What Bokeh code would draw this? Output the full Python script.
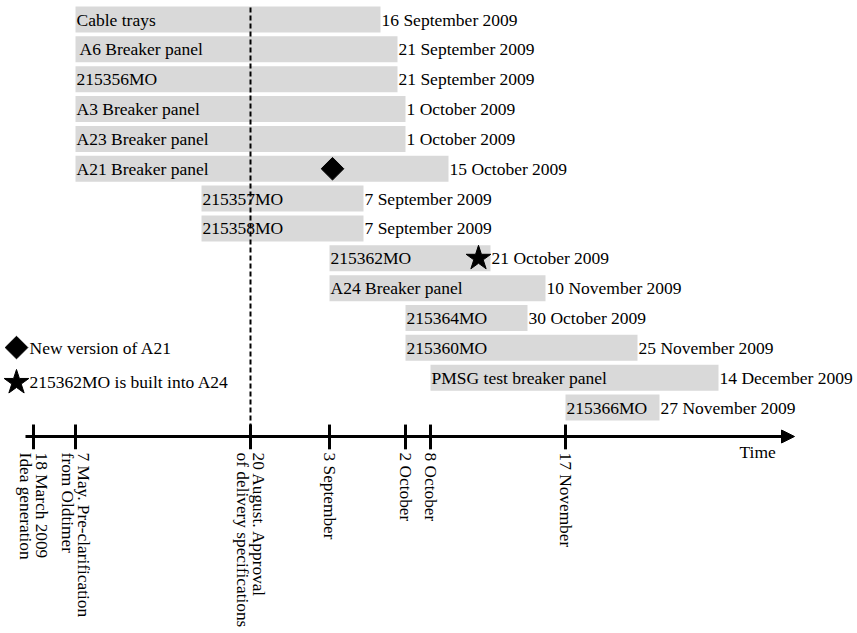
import math
from bokeh.plotting import figure
from bokeh.models import Range1d, ColumnDataSource, Arrow, NormalHead
from bokeh.core.properties import value
from bokeh.embed import file_html
from bokeh.resources import INLINE

# ---- data (schematic time units along the x axis, row index along y) ----
tasks = ["Cable trays", "A6 Breaker panel", "215356MO", "A3 Breaker panel",
         "A23 Breaker panel", "A21 Breaker panel", "215357MO", "215358MO",
         "215362MO", "A24 Breaker panel", "215364MO", "215360MO",
         "PMSG test breaker panel", "215366MO"]
end_labels = ["16 September 2009", "21 September 2009", "21 September 2009",
              "1 October 2009", "1 October 2009", "15 October 2009",
              "7 September 2009", "7 September 2009", "21 October 2009",
              "10 November 2009", "30 October 2009", "25 November 2009",
              "14 December 2009", "27 November 2009"]
task_start = [76, 76, 76, 76, 76, 76, 202, 202, 330, 330, 406, 406, 431, 566]
task_end = [381, 398, 398, 406, 406, 449, 364, 364, 491, 546, 528, 638, 719, 660]
rows = list(range(len(tasks)))

milestone_pos = [34, 76, 251, 330, 406, 431, 566]
milestone_labels = ["18 March 2009\nIdea generation",
                    "7 May. Pre-clarification\nfrom Oldtimer",
                    "20 August. Approval\nof delivery specifications",
                    "3 September", "2 October", "8 October", "17 November"]

event_diamond = (333, 5)   # New version of A21
event_star = (479, 8)      # 215362MO is built into A24
approval_pos = 251         # dashed line

FONT = value("Liberation Serif")
FS = "17.5px"

W, H = 856, 632
PITCH = 29.85
p = figure(width=W, height=H, output_backend="svg", toolbar_location=None,
           x_range=Range1d(1, 1 + W),
           y_range=Range1d((H - 19) / PITCH, -19 / PITCH),
           min_border=0, outline_line_color=None)
p.axis.visible = False
p.grid.visible = False
p.background_fill_color = "white"
p.border_fill_color = "white"

src = ColumnDataSource(dict(task=tasks, endlab=end_labels, start=task_start,
                            end=task_end, row=rows,
                            lab_x=[s + (4 if t.startswith("A6") else 1) for s, t in zip(task_start, tasks)],
                            end_x=[e + 1 for e in task_end]))

p.hbar(y="row", left="start", right="end", height=0.87, source=src,
       fill_color="#d9d9d9", line_color=None)
p.text(x="lab_x", y="row", text="task", source=src, text_font=FONT,
       text_font_size=FS, text_baseline="middle", text_align="left", text_color="black")
p.text(x="end_x", y="row", text="endlab", source=src, text_font=FONT,
       text_font_size=FS, text_baseline="middle", text_align="left", text_color="black")

# dashed approval line
axis_row = 13.97
p.segment(x0=[approval_pos], y0=[-0.4], x1=[approval_pos], y1=[axis_row],
          line_color="black", line_width=2, line_dash="5 3")

# time axis with arrow
p.add_layout(Arrow(end=NormalHead(size=13, fill_color="black", line_color="black"),
                   x_start=26, y_start=axis_row, x_end=795, y_end=axis_row,
                   line_width=3, line_color="black"))

# milestone ticks
p.segment(x0=milestone_pos, y0=[13.57] * len(milestone_pos),
          x1=milestone_pos, y1=[14.4] * len(milestone_pos),
          line_color="black", line_width=3)
p.text(x=milestone_pos, y=[14.51] * len(milestone_pos), text=milestone_labels,
       angle=-math.pi / 2, text_font=FONT, text_font_size="17.3px",
       text_align="left", text_baseline="middle", text_line_height=0.8,
       text_color="black")

p.text(x=[740], y=[14.5], text=["Time"], text_font=FONT, text_font_size=FS,
       text_align="left", text_baseline="middle", text_color="black")

# event markers
p.scatter(x=[event_diamond[0]], y=[event_diamond[1]], marker="square", size=16,
          angle=math.pi / 4, fill_color="black", line_color="black")
p.scatter(x=[event_star[0]], y=[event_star[1]], marker="star", size=26,
          fill_color="black", line_color="black")

# legend
p.scatter(x=[17], y=[10.99], marker="square", size=16, angle=math.pi / 4,
          fill_color="black", line_color="black")
p.scatter(x=[17], y=[12.16], marker="star", size=26,
          fill_color="black", line_color="black")
p.text(x=[30, 30], y=[10.99, 12.16],
       text=["New version of A21", "215362MO is built into A24"],
       text_font=FONT, text_font_size=FS, text_align="left",
       text_baseline="middle", text_color="black")

open("out.html", "w").write(file_html(p, INLINE))
